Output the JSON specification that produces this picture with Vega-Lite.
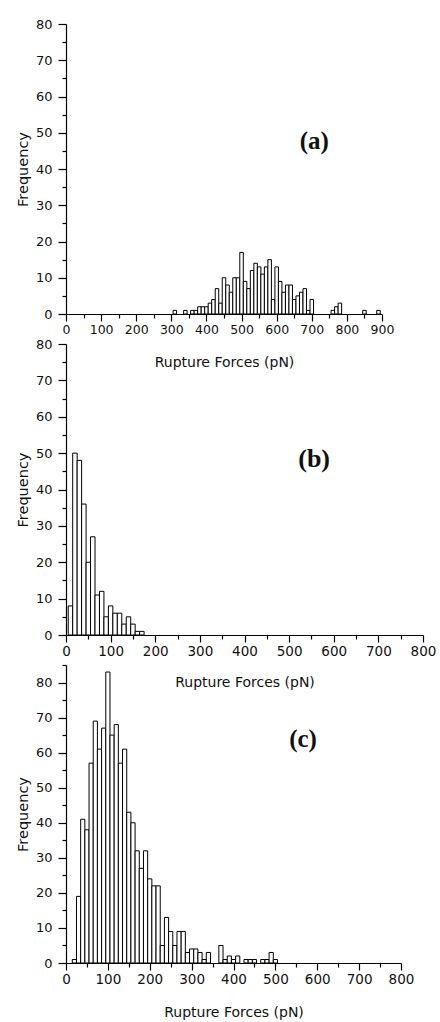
{
  "$schema": "https://vega.github.io/schema/vega-lite/v6.json",
  "background": "white",
  "padding": {"left": 15, "top": 18, "right": 5, "bottom": 2},
  "bounds": "flush",
  "spacing": 30,
  "config": {
    "view": {"stroke": null},
    "axis": {
      "grid": false,
      "domainColor": "#000000",
      "domainWidth": 1.2,
      "tickColor": "#000000",
      "tickWidth": 1.2,
      "labelColor": "#111111",
      "titleColor": "#111111",
      "labelFont": "DejaVu Sans",
      "titleFont": "DejaVu Sans",
      "titleFontWeight": "normal",
      "labelOverlap": false,
      "labelFlush": false
    }
  },
  "datasets": {
    "a": [
      {"lo": 305, "hi": 315, "n": 1}, {"lo": 335, "hi": 345, "n": 1}, {"lo": 355, "hi": 365, "n": 1},
      {"lo": 365, "hi": 375, "n": 1}, {"lo": 375, "hi": 385, "n": 2}, {"lo": 385, "hi": 395, "n": 2},
      {"lo": 395, "hi": 405, "n": 2}, {"lo": 405, "hi": 415, "n": 3}, {"lo": 415, "hi": 425, "n": 4},
      {"lo": 425, "hi": 435, "n": 7}, {"lo": 435, "hi": 445, "n": 3}, {"lo": 445, "hi": 455, "n": 10},
      {"lo": 455, "hi": 465, "n": 8}, {"lo": 465, "hi": 475, "n": 6}, {"lo": 475, "hi": 485, "n": 10},
      {"lo": 485, "hi": 495, "n": 10}, {"lo": 495, "hi": 505, "n": 17}, {"lo": 505, "hi": 515, "n": 9},
      {"lo": 515, "hi": 525, "n": 7}, {"lo": 525, "hi": 535, "n": 12}, {"lo": 535, "hi": 545, "n": 14},
      {"lo": 545, "hi": 555, "n": 13}, {"lo": 555, "hi": 565, "n": 11}, {"lo": 565, "hi": 575, "n": 13},
      {"lo": 575, "hi": 585, "n": 15}, {"lo": 585, "hi": 595, "n": 4}, {"lo": 595, "hi": 605, "n": 13},
      {"lo": 605, "hi": 615, "n": 9}, {"lo": 615, "hi": 625, "n": 6}, {"lo": 625, "hi": 635, "n": 8},
      {"lo": 635, "hi": 645, "n": 8}, {"lo": 645, "hi": 655, "n": 4}, {"lo": 655, "hi": 665, "n": 5},
      {"lo": 665, "hi": 675, "n": 6}, {"lo": 675, "hi": 685, "n": 7}, {"lo": 685, "hi": 695, "n": 1},
      {"lo": 695, "hi": 705, "n": 4}, {"lo": 755, "hi": 765, "n": 1}, {"lo": 765, "hi": 775, "n": 2},
      {"lo": 775, "hi": 785, "n": 3}, {"lo": 845, "hi": 855, "n": 1}, {"lo": 885, "hi": 895, "n": 1}
    ],
    "b": [
      {"lo": 5, "hi": 15, "n": 8}, {"lo": 15, "hi": 25, "n": 50}, {"lo": 25, "hi": 35, "n": 48},
      {"lo": 35, "hi": 45, "n": 36}, {"lo": 45, "hi": 55, "n": 20}, {"lo": 55, "hi": 65, "n": 27},
      {"lo": 65, "hi": 75, "n": 11}, {"lo": 75, "hi": 85, "n": 12}, {"lo": 85, "hi": 95, "n": 5},
      {"lo": 95, "hi": 105, "n": 8}, {"lo": 105, "hi": 115, "n": 6}, {"lo": 115, "hi": 125, "n": 6},
      {"lo": 125, "hi": 135, "n": 3}, {"lo": 135, "hi": 145, "n": 5}, {"lo": 145, "hi": 155, "n": 3},
      {"lo": 155, "hi": 165, "n": 1}, {"lo": 165, "hi": 175, "n": 1}
    ],
    "c": [
      {"lo": 15, "hi": 25, "n": 1}, {"lo": 25, "hi": 35, "n": 19}, {"lo": 35, "hi": 45, "n": 41},
      {"lo": 45, "hi": 55, "n": 38}, {"lo": 55, "hi": 65, "n": 57}, {"lo": 65, "hi": 75, "n": 69},
      {"lo": 75, "hi": 85, "n": 61}, {"lo": 85, "hi": 95, "n": 67}, {"lo": 95, "hi": 105, "n": 83},
      {"lo": 105, "hi": 115, "n": 65}, {"lo": 115, "hi": 125, "n": 68}, {"lo": 125, "hi": 135, "n": 57},
      {"lo": 135, "hi": 145, "n": 61}, {"lo": 145, "hi": 155, "n": 43}, {"lo": 155, "hi": 165, "n": 40},
      {"lo": 165, "hi": 175, "n": 32}, {"lo": 175, "hi": 185, "n": 27}, {"lo": 185, "hi": 195, "n": 32},
      {"lo": 195, "hi": 205, "n": 24}, {"lo": 205, "hi": 215, "n": 22}, {"lo": 215, "hi": 225, "n": 22},
      {"lo": 225, "hi": 235, "n": 5}, {"lo": 235, "hi": 245, "n": 13}, {"lo": 245, "hi": 255, "n": 9},
      {"lo": 255, "hi": 265, "n": 5}, {"lo": 265, "hi": 275, "n": 9}, {"lo": 275, "hi": 285, "n": 9},
      {"lo": 285, "hi": 295, "n": 3}, {"lo": 295, "hi": 305, "n": 4}, {"lo": 305, "hi": 315, "n": 4},
      {"lo": 315, "hi": 325, "n": 3}, {"lo": 325, "hi": 335, "n": 1}, {"lo": 335, "hi": 345, "n": 3},
      {"lo": 365, "hi": 375, "n": 5}, {"lo": 375, "hi": 385, "n": 1}, {"lo": 385, "hi": 395, "n": 2},
      {"lo": 395, "hi": 405, "n": 1}, {"lo": 405, "hi": 415, "n": 2}, {"lo": 425, "hi": 435, "n": 1},
      {"lo": 435, "hi": 445, "n": 1}, {"lo": 445, "hi": 455, "n": 1}, {"lo": 465, "hi": 475, "n": 1},
      {"lo": 475, "hi": 485, "n": 1}, {"lo": 485, "hi": 495, "n": 3}, {"lo": 495, "hi": 505, "n": 1}
    ]
  },
  "vconcat": [
    {
      "width": 316,
      "height": 290,
      "encoding": {
        "x": {
          "field": "lo", "type": "quantitative", "title": "Rupture Forces (pN)",
          "scale": {"domain": [0, 900], "nice": false, "zero": false},
          "axis": {
            "values": [0, 50, 100, 150, 200, 250, 300, 350, 400, 450, 500, 550, 600, 650, 700, 750, 800, 850, 900],
            "labelExpr": "datum.value % 100 === 0 ? datum.label : ''",
            "tickSize": {"condition": {"test": "datum.value % 100 === 0", "value": 7}, "value": 4},
            "labelPadding": 2, "labelFontSize": 12.5, "titleFontSize": 14, "titlePadding": 20
          }
        },
        "y": {
          "field": "n", "type": "quantitative", "title": "Frequency",
          "scale": {"domain": [0, 80], "nice": false},
          "axis": {
            "values": [0, 5, 10, 15, 20, 25, 30, 35, 40, 45, 50, 55, 60, 65, 70, 75, 80],
            "labelExpr": "datum.value % 10 === 0 ? datum.label : ''",
            "tickSize": {"condition": {"test": "datum.value % 10 === 0", "value": 8}, "value": 4},
            "labelPadding": 6, "labelFontSize": 13, "titleFontSize": 14.5, "titlePadding": 5
          }
        }
      },
      "layer": [
        {
          "data": {"name": "a"},
          "mark": {"type": "bar", "fill": "white", "stroke": "black", "strokeWidth": 1},
          "encoding": {"x2": {"field": "hi"}, "y2": {"datum": 0}}
        },
        {
          "data": {"values": [{"lo": 707, "n": 47.7, "tag": "(a)"}]},
          "mark": {"type": "text", "font": "Liberation Serif", "fontWeight": "bold", "fontSize": 25, "color": "#111111"},
          "encoding": {"text": {"field": "tag"}}
        }
      ]
    },
    {
      "width": 357,
      "height": 291,
      "encoding": {
        "x": {
          "field": "lo", "type": "quantitative", "title": "Rupture Forces (pN)",
          "scale": {"domain": [0, 800], "nice": false, "zero": false},
          "axis": {
            "values": [0, 50, 100, 150, 200, 250, 300, 350, 400, 450, 500, 550, 600, 650, 700, 750, 800],
            "labelExpr": "datum.value % 100 === 0 ? datum.label : ''",
            "tickSize": {"condition": {"test": "datum.value % 100 === 0", "value": 7}, "value": 4},
            "labelPadding": 2, "labelFontSize": 13.5, "titleFontSize": 14, "titlePadding": 18
          }
        },
        "y": {
          "field": "n", "type": "quantitative", "title": "Frequency",
          "scale": {"domain": [0, 80], "nice": false},
          "axis": {
            "values": [0, 5, 10, 15, 20, 25, 30, 35, 40, 45, 50, 55, 60, 65, 70, 75, 80],
            "labelExpr": "datum.value % 10 === 0 ? datum.label : ''",
            "tickSize": {"condition": {"test": "datum.value % 10 === 0", "value": 8}, "value": 4},
            "labelPadding": 6, "labelFontSize": 13, "titleFontSize": 14.5, "titlePadding": 5
          }
        }
      },
      "layer": [
        {
          "data": {"name": "b"},
          "mark": {"type": "bar", "fill": "white", "stroke": "black", "strokeWidth": 1},
          "encoding": {"x2": {"field": "hi"}, "y2": {"datum": 0}}
        },
        {
          "data": {"values": [{"lo": 556, "n": 48.4, "tag": "(b)"}]},
          "mark": {"type": "text", "font": "Liberation Serif", "fontWeight": "bold", "fontSize": 26, "color": "#111111"},
          "encoding": {"text": {"field": "tag"}}
        }
      ]
    },
    {
      "width": 335,
      "height": 298,
      "encoding": {
        "x": {
          "field": "lo", "type": "quantitative", "title": "Rupture Forces (pN)",
          "scale": {"domain": [0, 800], "nice": false, "zero": false},
          "axis": {
            "values": [0, 50, 100, 150, 200, 250, 300, 350, 400, 450, 500, 550, 600, 650, 700, 750, 800],
            "labelExpr": "datum.value % 100 === 0 ? datum.label : ''",
            "tickSize": {"condition": {"test": "datum.value % 100 === 0", "value": 7}, "value": 4},
            "labelPadding": 2, "labelFontSize": 13.5, "titleFontSize": 14, "titlePadding": 20
          }
        },
        "y": {
          "field": "n", "type": "quantitative", "title": "Frequency",
          "scale": {"domain": [0, 85], "nice": false},
          "axis": {
            "values": [0, 5, 10, 15, 20, 25, 30, 35, 40, 45, 50, 55, 60, 65, 70, 75, 80, 85],
            "labelExpr": "datum.value % 10 === 0 ? datum.label : ''",
            "tickSize": {"condition": {"test": "datum.value % 10 === 0", "value": 8}, "value": 4},
            "labelPadding": 6, "labelFontSize": 13, "titleFontSize": 14.5, "titlePadding": 5
          }
        }
      },
      "layer": [
        {
          "data": {"name": "c"},
          "mark": {"type": "bar", "fill": "white", "stroke": "black", "strokeWidth": 1},
          "encoding": {"x2": {"field": "hi"}, "y2": {"datum": 0}}
        },
        {
          "data": {"values": [{"lo": 566, "n": 64, "tag": "(c)"}]},
          "mark": {"type": "text", "font": "Liberation Serif", "fontWeight": "bold", "fontSize": 25, "color": "#111111"},
          "encoding": {"text": {"field": "tag"}}
        }
      ]
    }
  ]
}
